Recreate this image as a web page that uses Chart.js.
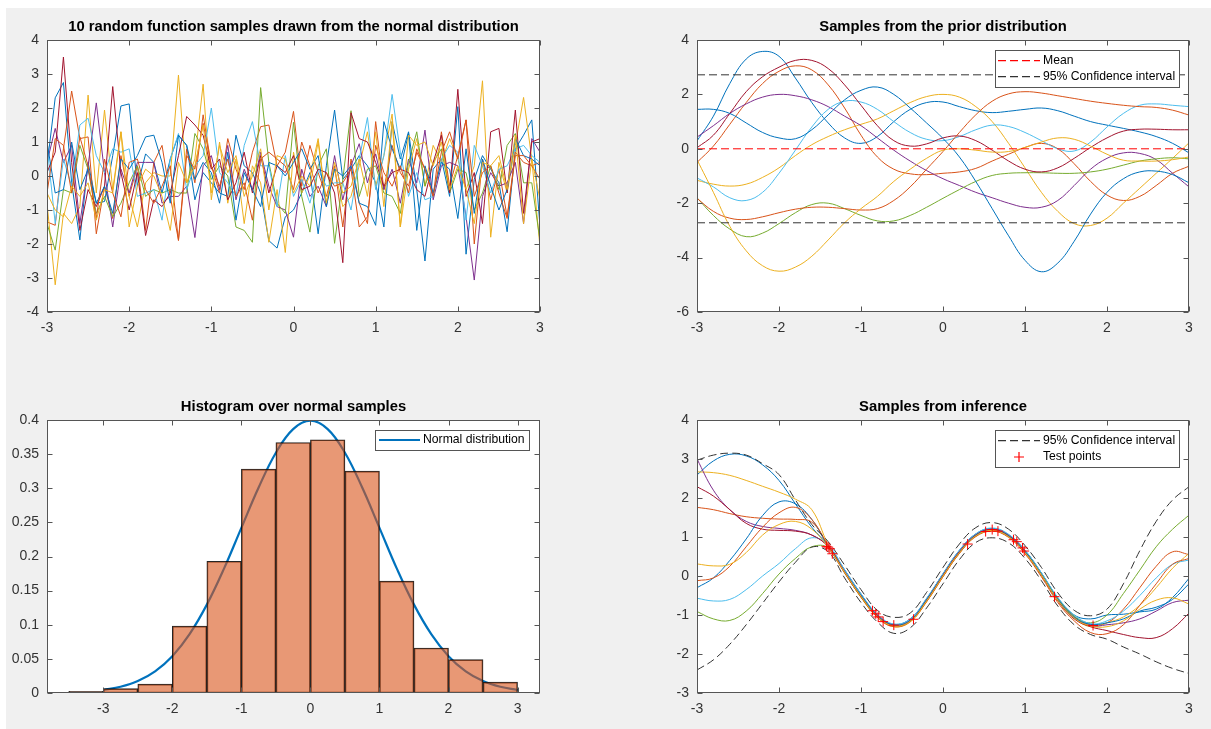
<!DOCTYPE html>
<html>
<head>
<meta charset="utf-8">
<title>Gaussian process figure</title>
<script src="https://cdn.jsdelivr.net/npm/chart.js@4.4.0/dist/chart.umd.min.js"></script>
<style>
  html, body { margin: 0; padding: 0; background: #fff; }
  body { width: 1211px; height: 729px; position: relative; overflow: hidden; }
  #figure { position: absolute; left: 6px; top: 8px; right: 0; bottom: 0; background: #f0f0f0; }
  canvas { position: absolute; }
</style>
</head>
<body>
<div id="figure"></div>
<canvas id="noiseChart" width="560" height="342" style="left:0;top:0"></canvas>
<canvas id="priorChart" width="559" height="342" style="left:650px;top:0"></canvas>
<canvas id="histChart" width="560" height="343" style="left:0;top:380px"></canvas>
<canvas id="inferChart" width="559" height="343" style="left:650px;top:380px"></canvas>
<script>
// ---------------- data ----------------

// matlab default colour order
const BLUE = "#0072BD", ORANGE = "#D95319", YELLOW = "#EDB120", PURPLE = "#7E2F8E",
      GREEN = "#77AC30", CYAN = "#4DBEEE", DARKRED = "#A2142F";
const lineColors = [BLUE, ORANGE, YELLOW, PURPLE, GREEN, CYAN, DARKRED, BLUE, ORANGE, YELLOW];

// panel 1: 10 random function samples
const noiseX = [-3,-2.9,-2.8,-2.7,-2.6,-2.5,-2.4,-2.3,-2.2,-2.1,-2,-1.9,-1.8,-1.7,-1.6,-1.5,-1.4,-1.3,-1.2,-1.1,
  -1,-0.9,-0.8,-0.7,-0.6,-0.5,-0.4,-0.3,-0.2,-0.1,0,0.1,0.2,0.3,0.4,0.5,0.6,0.7,0.8,0.9,
  1,1.1,1.2,1.3,1.4,1.5,1.6,1.7,1.8,1.9,2,2.1,2.2,2.3,2.4,2.5,2.6,2.7,2.8,2.9,3];
const noise1 = [0.3,2.3,2.75,-0.2,-1.88,0.4,-0.8,-0.75,0.6,2.06, 2.12,-0.3,0.65,0.4,-0.5,0.5,1.2,0.9,-0.7,0.1,
  -0.2,-0.5,-0.6,1.2,0.3,0.1,-0.5,-1.9,-2.12,-1.2, -1.0,-0.5,0.1,-1.7,0.3,1.94,-0.1,0.2,0.6,0.3,
  -0.2,-1.5,1.6,0.5,1.3,-0.4,-2.5,0.2,0.5,-0.6, 2.04,-2.3,-0.1,0.6,0.2,-0.2,-1.64,0.8,1.2,1.65,-1.5];
const noise2 = [-1.35,-1.45,0.8,2.5,1.1,1.15,-1.7,-0.3,-1.25,0.6, -0.6,0.3,-1.6,0.4,0.9,-0.6,-1.88,0.8,-0.2,1.8,
  0.3,-0.5,1.1,0.2,-0.4,0.7,1.45,1.5,0.3,0.7, 1.9,-0.3,0.9,0.1,-0.6,0.3,-1.5,0.5,-0.8,-1.4,
  1.6,-0.4,0.9,0.1,-0.3,0.7,0.2,-0.6,1.3,-0.3, 0.6,1.65,-2.0,0.5,-0.7,0.2,-1.2,0.7,0.4,0.3,0.4];
const noise3 = [-0.8,-3.2,-1.1,-1.4,-0.9,2.38,-0.5,1.94,-0.4,1.3, -0.6,-1.5,-0.2,0.1,0.0,0.0,2.97,-0.2,0.5,2.7,
  -0.7,1.0,-0.8,0.5,-1.4,0.3,-0.2,-1.95,-0.4,-2.25, 0.7,-0.5,0.0,1.1,-0.8,0.2,-0.9,-0.6,0.3,1.3,
  -0.3,0.6,1.82,-1.5,0.2,1.1,-0.3,0.9,0.4,1.1, 0.5,-0.4,0.3,2.8,-1.8,0.4,-0.5,0.9,2.31,0.5,-2.1];
const noise4 = [0.4,1.4,0.4,0.9,-1.4,0.3,2.15,0.1,-1.5,0.2, -0.5,0.4,0.4,0.4,-0.8,-0.6,-0.6,-0.3,-1.81,0.3,
  0.6,-0.4,0.9,-0.7,0.2,-0.4,0.7,-0.3,-0.9,-1.0, -1.8,0.2,-0.6,-0.3,-0.9,0.6,-0.7,0.3,0.95,-0.2,
  0.65,-0.4,0.2,-0.8,0.5,-0.2,1.35,-0.7,0.3,0.4, 0.3,-1.2,-3.06,-0.6,0.1,-0.3,-0.2,0.4,-1.4,1.1,0.7];
const noise5 = [-1.4,-2.18,-0.4,-0.5,0.9,0.2,-1.1,-0.6,-1.2,-0.8, -0.2,0.3,-0.6,-0.4,-0.5,-0.4,-0.5,-0.5,1.25,0.8,
  -0.1,0.3,0.0,-1.5,-1.6,-1.95,2.6,0.4,-0.8,-1.1, 1.58,-0.6,-1.65,0.3,0.8,-1.98,-0.1,1.92,-0.6,0.2,
  0.3,-0.5,-0.6,-1.1,0.4,1.3,-0.3,0.4,0.8,-0.5, 0.2,0.1,-1.0,-0.5,0.3,-0.4,0.9,1.25,-0.2,-0.2,-1.9];
const noise6 = [0.9,-1.4,0.5,-0.3,1.5,1.7,0.6,0.1,0.8,0.7, 0.8,-0.6,-0.5,-0.4,-1.3,0.5,1.25,-0.4,0.3,0.6,
  2.0,0.1,-0.2,-0.6,0.9,1.6,0.3,0.3,-0.9,0.6, -0.6,-0.1,-0.8,0.2,-0.3,-0.2,-0.2,-1.0,0.5,1.72,
  -0.4,0.6,2.4,0.7,-0.6,0.1,-0.7,-0.6,0.5,0.9, 0.7,-1.3,0.9,0.3,-0.5,0.2,0.3,0.8,0.9,0.6,0.4];
const noise7 = [0.1,0.7,3.5,0.4,-1.6,-0.4,-0.9,-0.3,2.63,0.1, -1.0,0.1,-1.75,-0.7,-0.9,-0.5,0.6,1.75,1.5,1.2,
  0.2,0.5,-0.7,-0.2,0.7,-0.5,0.6,-0.5,0.3,0.1, 0.6,-0.4,-0.3,0.2,0.1,-0.5,-2.55,1.86,1.1,1.0,
  0.4,-0.3,0.1,0.2,0.1,-0.4,-0.6,0.4,1.2,-0.5, 2.55,-0.6,0.1,-1.4,1.3,1.4,-0.5,1.94,-1.1,1.0,1.1];
const noise8 = [1.0,-0.5,-0.4,1.0,-0.4,0.2,-0.8,-0.3,-1.1,0.5, 0.2,0.6,1.15,1.2,0.4,-0.8,1.2,0.9,-0.1,0.4,
  0.1,-0.8,0.7,-1.3,0.1,-0.4,-0.9,0.4,0.3,0.0, 0.4,0.8,0.2,0.6,-0.9,0.2,0.0,0.3,-0.8,-0.9,
  -1.45,1.6,0.8,0.2,1.25,-1.6,0.3,-0.5,0.4,0.2, -1.25,0.8,-1.1,0.5,-0.3,-1.0,-0.4,1.1,0.6,0.5,0.3];
const noise9 = [-0.5,1.1,0.9,-0.5,1.15,0.3,-1.25,0.5,-0.5,-1.2, 0.4,0.5,-0.4,-0.8,-0.3,0.3,-1.9,0.6,0.2,1.55,
  0.3,-0.3,0.5,-0.6,-0.2,-1.3,0.5,0.7,0.5,0.3, -0.4,1.0,0.3,-0.5,0.1,-0.3,-0.2,0.2,-1.5,-1.2,
  0.9,0.1,-0.3,0.3,-0.5,0.8,0.2,-0.6,0.7,1.3, 0.5,1.65,-0.6,0.1,0.3,-0.5,-1.25,0.6,0.6,0.3,-0.1];
const noise10 = [-0.5,-1.0,-1.2,-0.3,-0.6,-0.2,-1.3,-0.4,-0.5,1.3, -1.5,-0.3,0.2,0.0,-0.6,-1.6,0.4,-0.2,0.3,1.5,
  -0.5,0.9,0.1,0.6,-0.6,0.0,0.8,-1.0,0.6,0.5, -0.5,0.0,-0.3,1.0,-0.8,0.4,-0.5,-0.3,0.5,-0.6,
  1.3,-0.9,1.6,-1.5,1.2,0.9,1.0,0.3,1.0,-0.4, 0.3,-0.4,-1.4,0.4,0.3,0.6,-0.4,1.2,-1.4,0.5,-0.7];
const noiseSeries = [noise1, noise2, noise3, noise4, noise5, noise6, noise7, noise8, noise9, noise10];

// panel 2: samples from the prior
const smoothX = [-3,-2.8,-2.6,-2.4,-2.2,-2,-1.8,-1.6,-1.4,-1.2,-1,-0.8,-0.6,-0.4,-0.2,0,
  0.2,0.4,0.6,0.8,1,1.2,1.4,1.6,1.8,2,2.2,2.4,2.6,2.8,3];
const prior1 = [0.29,1.2,2.4,3.3,3.58,3.4,2.6,1.7,0.95,0.4,0.2,0.45,1.0,1.45,1.7,1.72,
  1.55,1.4,1.33,1.38,1.45,1.5,1.4,1.2,1.0,0.87,0.75,0.62,0.45,0.2,-0.15];
const prior2 = [-0.5,0.1,0.9,1.7,2.4,2.85,3.05,2.9,2.35,1.5,0.5,-0.3,-0.75,-0.92,-0.95,-0.9,
  -0.85,-0.72,-0.45,-0.2,0.05,0.2,0.0,-0.55,-1.2,-1.7,-1.9,-1.75,-1.35,-0.9,-0.64];
const prior3 = [-1.16,-1.3,-1.37,-1.3,-1.05,-0.7,-0.25,0.15,0.45,0.7,0.9,1.1,1.4,1.7,1.92,2.0,
  1.9,1.55,1.0,0.2,-0.7,-1.6,-2.3,-2.75,-2.82,-2.55,-2.0,-1.45,-0.9,-0.35,0.22];
const prior4 = [0.43,0.85,1.3,1.65,1.9,2.0,1.95,1.8,1.55,1.2,0.85,0.4,-0.05,-0.45,-0.8,-1.1,
  -1.35,-1.6,-1.8,-2.0,-2.15,-2.15,-1.9,-1.35,-0.75,-0.35,-0.15,-0.17,-0.4,-0.9,-1.4];
const prior5 = [-1.8,-2.45,-2.95,-3.23,-3.1,-2.75,-2.35,-2.05,-2.0,-2.2,-2.45,-2.65,-2.65,-2.45,-2.15,-1.82,
  -1.5,-1.2,-0.98,-0.9,-0.88,-0.88,-0.9,-0.9,-0.85,-0.75,-0.6,-0.45,-0.37,-0.33,-0.37];
const prior6 = [-1.07,-1.4,-1.8,-1.9,-1.6,-0.9,-0.05,0.8,1.45,1.75,1.72,1.45,1.0,0.6,0.35,0.3,
  0.45,0.7,0.87,0.82,0.6,0.3,0.0,-0.08,0.25,0.8,1.3,1.6,1.65,1.6,1.55];
const prior7 = [0.04,0.5,1.3,2.1,2.65,3.0,3.25,3.25,2.95,2.35,1.6,0.85,0.3,0.1,0.18,0.4,
  0.47,0.3,-0.05,-0.45,-0.75,-0.85,-0.7,-0.35,0.05,0.4,0.65,0.72,0.72,0.7,0.7];
const prior8 = [1.45,1.45,1.3,0.95,0.6,0.4,0.37,0.7,1.25,1.8,2.15,2.27,2.0,1.5,0.95,0.38,
  -0.3,-1.2,-2.2,-3.2,-4.1,-4.52,-4.2,-3.4,-2.4,-1.6,-1.1,-0.85,-0.82,-0.95,-1.25];
const prior9 = [-1.82,-2.3,-2.55,-2.6,-2.5,-2.35,-2.22,-2.15,-2.15,-2.2,-2.25,-2.2,-1.9,-1.4,-0.75,-0.1,
  0.6,1.25,1.75,2.02,2.1,2.05,1.95,1.85,1.75,1.67,1.6,1.55,1.52,1.42,1.24];
const prior10 = [-0.4,-1.6,-2.85,-3.75,-4.3,-4.5,-4.35,-3.95,-3.35,-2.72,-2.2,-1.75,-1.2,-0.75,-0.35,-0.05,
  0.0,-0.05,-0.12,-0.1,0.05,0.25,0.4,0.35,0.1,-0.2,-0.42,-0.45,-0.45,-0.4,-0.3];
const priorSeries = [prior1, prior2, prior3, prior4, prior5, prior6, prior7, prior8, prior9, prior10];
const priorBandX = [-3, 3];
const priorMean = [0, 0];
const priorUpper = [2.72, 2.72];
const priorLower = [-2.72, -2.72];

// panel 3: histogram over normal samples
const binCenters = [-3.25,-2.75,-2.25,-1.75,-1.25,-0.75,-0.25,0.25,0.75,1.25,1.75,2.25,2.75];
const binHeights = [0.0024,0.0063,0.013,0.098,0.193,0.328,0.367,0.371,0.325,0.164,0.066,0.049,0.016];
const histTicks = [-3, -2, -1, 0, 1, 2, 3];
const normalX = [-3,-2.75,-2.5,-2.25,-2,-1.75,-1.5,-1.25,-1,-0.75,-0.5,-0.25,0,
  0.25,0.5,0.75,1,1.25,1.5,1.75,2,2.25,2.5,2.75,3];
const normalY = [0.0044,0.0091,0.0175,0.0317,0.054,0.0863,0.1295,0.1826,0.242,0.3011,0.3521,0.3867,0.3989,
  0.3867,0.3521,0.3011,0.242,0.1826,0.1295,0.0863,0.054,0.0317,0.0175,0.0091,0.0044];

// panel 4: samples from inference
const post1 = [2.59,2.95,3.12,3.08,2.85,2.45,1.85,1.25,0.78, 0.16,-0.46,-1.0,-1.24,-1.1,-0.58,0.06,0.66,
  1.08,1.22,1.06,0.66,0.08,-0.56,-1.0,-1.1, -1.0,-0.98,-0.92,-0.85,-0.55,-0.06];
const post2 = [1.76,1.7,1.6,1.52,1.48,1.46,1.45,1.38,0.78, 0.12,-0.52,-1.04,-1.28,-1.16,-0.64,0.0,0.6,
  1.04,1.18,1.02,0.6,0.02,-0.63,-1.08,-1.25, -1.2,-0.85,-0.3,0.25,0.62,0.55];
const post3 = [2.67,2.65,2.58,2.45,2.3,2.15,1.97,1.7,0.8, 0.1,-0.55,-1.06,-1.3,-1.18,-0.66,-0.02,0.58,
  1.02,1.16,1.0,0.6,0.02,-0.62,-1.08,-1.3, -1.2,-1.05,-0.75,-0.3,0.2,0.58];
const post4 = [3.0,2.2,1.7,1.4,1.27,1.22,1.17,1.05,0.76, 0.14,-0.48,-1.0,-1.25,-1.13,-0.6,0.04,0.64,
  1.06,1.2,1.04,0.64,0.06,-0.58,-1.04,-1.28, -1.25,-1.2,-1.1,-0.9,-0.68,-0.62];
const post5 = [-0.91,-1.1,-1.14,-0.9,-0.45,0.05,0.45,0.75,0.72, 0.08,-0.54,-1.04,-1.27,-1.15,-0.63,0.01,0.6,
  1.03,1.17,1.02,0.63,0.06,-0.58,-1.03,-1.2, -1.0,-0.45,0.15,0.75,1.2,1.56];
const post6 = [-0.57,-0.64,-0.6,-0.35,0.0,0.32,0.7,0.98,0.8, 0.16,-0.46,-0.98,-1.23,-1.1,-0.57,0.06,0.66,
  1.08,1.23,1.07,0.66,0.08,-0.55,-1.0,-1.22, -1.15,-0.9,-0.5,-0.05,0.3,0.41];
const post7 = [2.29,2.05,1.7,1.35,1.2,1.17,1.15,1.05,0.75, 0.1,-0.52,-1.03,-1.27,-1.15,-0.62,0.02,0.62,
  1.05,1.19,1.03,0.62,0.03,-0.63,-1.1,-1.3, -1.4,-1.5,-1.58,-1.58,-1.35,-0.95];
const post8 = [-0.3,-0.05,0.4,0.95,1.55,1.9,1.85,1.45,0.75, 0.1,-0.5,-1.02,-1.26,-1.14,-0.62,0.0,0.6,
  1.04,1.18,1.02,0.62,0.04,-0.6,-1.06,-1.24, -1.2,-1.1,-0.9,-0.8,-0.6,-0.2];
const post9 = [-0.12,-0.05,0.25,0.75,1.25,1.62,1.76,1.45,0.77, 0.08,-0.54,-1.06,-1.3,-1.17,-0.66,-0.02,0.58,
  1.01,1.15,0.99,0.57,-0.02,-0.68,-1.15,-1.45, -1.48,-1.25,-0.75,-0.2,0.3,0.45];
const post10 = [0.31,0.26,0.3,0.6,1.05,1.32,1.4,1.2,0.74, 0.1,-0.52,-1.04,-1.28,-1.16,-0.64,0.0,0.6,
  1.03,1.17,1.01,0.6,0.03,-0.62,-1.08,-1.28, -1.3,-1.15,-0.85,-0.62,-0.56,-0.72];
const postSeries = [post1, post2, post3, post4, post5, post6, post7, post8, post9, post10];
const postUpper = [2.97,3.1,3.15,3.1,2.88,2.6,1.95,1.32,0.88, 0.28,-0.35,-0.88,-1.06,-0.95,-0.42,0.22,0.82,
  1.24,1.37,1.2,0.78,0.22,-0.43,-0.88,-1.02, -0.85,-0.2,0.65,1.4,1.95,2.29];
const postLower = [-2.41,-2.15,-1.75,-1.25,-0.7,-0.15,0.35,0.74,0.62, -0.05,-0.68,-1.18,-1.47,-1.33,-0.82,-0.2,0.42,
  0.86,0.98,0.85,0.45,-0.12,-0.77,-1.25,-1.5, -1.62,-1.82,-2.0,-2.2,-2.37,-2.5];
const testX = [-1.42,-1.40,-1.38,-1.35,-0.86,-0.82,-0.79,-0.73,-0.60,-0.36,0.30,0.52,0.60,0.67,0.86,0.90,0.97,0.99,1.36,1.83];
const testY = [0.76,0.74,0.70,0.57,-0.89,-0.97,-1.05,-1.17,-1.26,-1.11,0.82,1.14,1.19,1.15,0.93,0.88,0.72,0.64,-0.53,-1.27];

// ---------------- styling helpers ----------------

const FONT = '"Liberation Sans", Arial, Helvetica, sans-serif';
const TICK_COLOR = "#333333";
const AXIS_COLOR = "#555555";
const CI_COLOR = "#333333";
const MEAN_COLOR = "#ff0000";

// titles and legends per canvas
const panels = {
    noiseChart: { title: "10 random function samples drawn from the normal distribution" },
    priorChart: {
        title: "Samples from the prior distribution",
        legend: {
            w: 184, h: 37, right: 10, row0: 10.7, rowH: 16, x0: 3,
            items: [
                { text: "Mean", rgb: "rgb(255,0,0)", kind: "dash" },
                { text: "95% Confidence interval", rgb: "rgb(51,51,51)", kind: "dash" }
            ]
        }
    },
    histChart: {
        title: "Histogram over normal samples",
        legend: {
            w: 154, h: 20, right: 11, row0: 10, rowH: 16, x0: 4,
            items: [{ text: "Normal distribution", rgb: "rgb(0,114,189)", kind: "solid", thick: 2.2 }]
        }
    },
    inferChart: {
        title: "Samples from inference",
        legend: {
            w: 184, h: 37, right: 10, row0: 10.7, rowH: 16.3, x0: 3,
            items: [
                { text: "95% Confidence interval", rgb: "rgb(51,51,51)", kind: "dash" },
                { text: "Test points", rgb: "rgb(255,0,0)", kind: "cross" }
            ]
        }
    }
};

Chart.defaults.font.family = FONT;
Chart.defaults.font.size = 14;
Chart.defaults.color = TICK_COLOR;
Chart.defaults.animation = false;
Chart.defaults.events = [];
Chart.defaults.elements.point.radius = 0;
Chart.defaults.plugins.legend.display = false;
Chart.defaults.plugins.tooltip.enabled = false;

const pts = (xs, ys) => ys.map((y, i) => ({ x: xs[i], y }));

const lineSet = (xs, ys, color, order, extra = {}) => ({
    type: "line",
    data: pts(xs, ys),
    borderColor: color,
    borderWidth: 1,
    pointRadius: 0,
    tension: 0,
    fill: false,
    order,
    ...extra
});

const xAxis = (min, max, extra = {}) => ({
    type: "linear",
    min, max,
    offset: false,
    grid: { display: false, drawTicks: false, offset: false },
    border: { display: false },
    ticks: { stepSize: 1, padding: 8, maxRotation: 0, autoSkip: false },
    afterFit: s => { s.height = 30; },
    ...extra
});

const yAxis = (min, max, step) => ({
    type: "linear",
    min, max,
    grid: { display: false, drawTicks: false },
    border: { display: false },
    ticks: {
        stepSize: step,
        padding: 8,
        autoSkip: false,
        callback: v => String(Math.round(v * 100) / 100)
    },
    afterFit: s => { s.width = 47; }
});

function drawLegend(ctx, a, lg) {
    const left = Math.round(a.right - lg.right - lg.w);
    const top = Math.round(a.top + 10);
    ctx.fillStyle = "#fff";
    ctx.fillRect(left, top, lg.w, lg.h);
    ctx.strokeStyle = AXIS_COLOR;
    ctx.lineWidth = 1;
    ctx.setLineDash([]);
    ctx.strokeRect(left + 0.5, top + 0.5, lg.w, lg.h);
    ctx.font = "12.2px " + FONT;
    ctx.textAlign = "left";
    ctx.textBaseline = "middle";
    lg.items.forEach((it, i) => {
        const y = top + lg.row0 + i * lg.rowH;
        ctx.save();
        ctx.strokeStyle = it.rgb;
        ctx.lineWidth = it.thick || 1.2;
        ctx.beginPath();
        if (it.kind === "cross") {
            const cx = left + 24;
            ctx.moveTo(cx - 5, y); ctx.lineTo(cx + 5, y);
            ctx.moveTo(cx, y - 5); ctx.lineTo(cx, y + 5);
        } else {
            if (it.kind === "dash") ctx.setLineDash([8, 4]);
            ctx.moveTo(left + lg.x0, y);
            ctx.lineTo(left + 45, y);
        }
        ctx.stroke();
        ctx.restore();
        ctx.fillStyle = "#000";
        ctx.fillText(it.text, left + 48, y);
    });
}

// white axes background, boxed axes with inward ticks, title and legend
const matlabAxes = {
    id: "matlabAxes",
    beforeDraw(chart) {
        const { ctx, chartArea: a } = chart;
        ctx.save();
        ctx.fillStyle = "#fff";
        ctx.fillRect(a.left, a.top, a.right - a.left, a.bottom - a.top);
        ctx.restore();
    },
    afterDraw(chart) {
        const { ctx, chartArea: a, scales } = chart;
        const panel = panels[chart.canvas.id];
        const L = Math.round(a.left) + 0.5, R = Math.round(a.right) - 0.5;
        const T = Math.round(a.top) + 0.5, B = Math.round(a.bottom) - 0.5;
        ctx.save();
        ctx.globalAlpha = 1;
        ctx.globalCompositeOperation = "source-over";
        ctx.setLineDash([]);
        ctx.strokeStyle = AXIS_COLOR;
        ctx.lineWidth = 1;
        ctx.beginPath();
        scales.x.ticks.forEach(t => {
            const px = Math.round(scales.x.getPixelForValue(t.value)) + 0.5;
            ctx.moveTo(px, B); ctx.lineTo(px, B - 5);
            ctx.moveTo(px, T); ctx.lineTo(px, T + 5);
        });
        scales.y.ticks.forEach(t => {
            const py = Math.round(scales.y.getPixelForValue(t.value)) + 0.5;
            ctx.moveTo(L, py); ctx.lineTo(L + 5, py);
            ctx.moveTo(R, py); ctx.lineTo(R - 5, py);
        });
        ctx.stroke();
        ctx.strokeRect(L, T, R - L, B - T);

        ctx.fillStyle = "#000";
        ctx.font = "bold 14.8px " + FONT;
        ctx.textAlign = "center";
        ctx.textBaseline = "middle";
        ctx.fillText(panel.title, (a.left + a.right) / 2, a.top - 13);

        if (panel.legend) drawLegend(ctx, a, panel.legend);
        ctx.restore();
    }
};

const baseOptions = scales => ({
    responsive: false,
    maintainAspectRatio: false,
    devicePixelRatio: 1,
    layout: { padding: { top: 40, right: 20, left: 0, bottom: 0 } },
    scales
});

// ---------------- panel 1 ----------------

new Chart(document.getElementById("noiseChart"), {
    type: "line",
    data: {
        datasets: noiseSeries.map((ys, i) => lineSet(noiseX, ys, lineColors[i], 10 - i))
    },
    options: baseOptions({ x: xAxis(-3, 3), y: yAxis(-4, 4, 1) }),
    plugins: [matlabAxes]
});

// ---------------- panel 2 ----------------

new Chart(document.getElementById("priorChart"), {
    type: "line",
    data: {
        datasets: [
            lineSet(priorBandX, priorMean, MEAN_COLOR, 2, { borderDash: [8, 4] }),
            lineSet(priorBandX, priorUpper, CI_COLOR, 1, { borderDash: [8, 4] }),
            lineSet(priorBandX, priorLower, CI_COLOR, 1, { borderDash: [8, 4] }),
            ...priorSeries.map((ys, i) => lineSet(smoothX, ys, lineColors[i], 20 - i, { tension: 0.4 }))
        ]
    },
    options: baseOptions({ x: xAxis(-3, 3), y: yAxis(-6, 4, 2) }),
    plugins: [matlabAxes]
});

// ---------------- panel 3 ----------------

new Chart(document.getElementById("histChart"), {
    type: "bar",
    data: {
        datasets: [
            {
                type: "bar",
                data: pts(binCenters, binHeights),
                backgroundColor: "rgba(217,83,25,0.6)",
                borderColor: "rgba(0,0,0,0.85)",
                borderWidth: 1,
                borderSkipped: false,
                barPercentage: 1,
                categoryPercentage: 1,
                order: 0
            },
            lineSet(normalX, normalY, BLUE, 1, { borderWidth: 2.2, tension: 0.4 })
        ]
    },
    options: baseOptions({
        x: xAxis(-3.815, 3.325, {
            bounds: "data",
            afterBuildTicks: s => { s.ticks = histTicks.map(v => ({ value: v })); }
        }),
        y: yAxis(0, 0.4, 0.05)
    }),
    plugins: [matlabAxes]
});

// ---------------- panel 4 ----------------

new Chart(document.getElementById("inferChart"), {
    type: "line",
    data: {
        datasets: [
            {
                type: "line",
                data: pts(testX, testY),
                showLine: false,
                pointStyle: "cross",
                pointRadius: 5,
                pointBorderColor: MEAN_COLOR,
                pointBackgroundColor: MEAN_COLOR,
                pointBorderWidth: 1,
                borderColor: MEAN_COLOR,
                order: 1
            },
            lineSet(smoothX, postUpper, CI_COLOR, 2, { borderDash: [8, 4], tension: 0.4 }),
            lineSet(smoothX, postLower, CI_COLOR, 2, { borderDash: [8, 4], tension: 0.4 }),
            ...postSeries.map((ys, i) => lineSet(smoothX, ys, lineColors[i], 20 - i, { tension: 0.4 }))
        ]
    },
    options: baseOptions({ x: xAxis(-3, 3), y: yAxis(-3, 4, 1) }),
    plugins: [matlabAxes]
});
</script>
</body>
</html>
